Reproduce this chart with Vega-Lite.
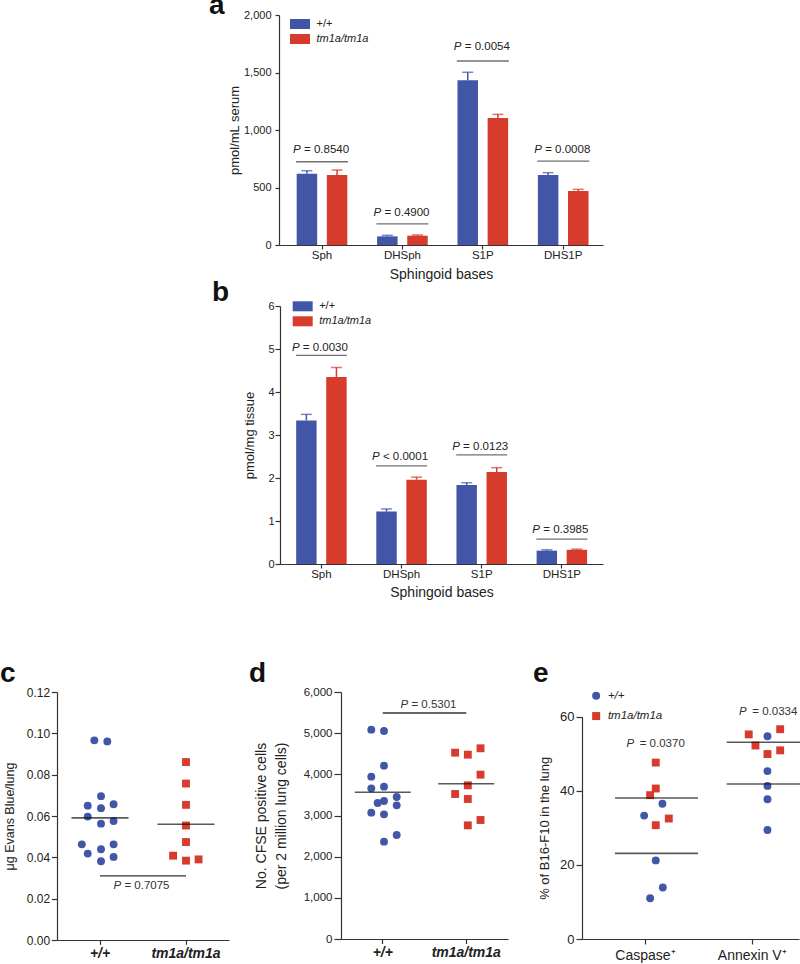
{
  "$schema": "https://vega.github.io/schema/vega-lite/v6.json",
  "padding": {"left": 0, "top": -8, "right": 0, "bottom": 0},
  "background": "white",
  "config": {
    "font": "Liberation Sans",
    "view": {"stroke": null},
    "axis": {"grid": false, "domainColor": "#333", "tickColor": "#333", "domainWidth": 1.2, "tickWidth": 1.2, "labelColor": "#222", "titleColor": "#222", "titleFontWeight": "normal", "labelFontSize": 11, "titleFontSize": 13},
    "title": {"anchor": "start", "frame": "group", "fontSize": 28, "fontWeight": "bold", "baseline": "alphabetic", "color": "#111"},
    "legend": {"labelColor": "#222"}
  },
  "datasets": {
    "a_bars": [
      {"cat": "Sph", "g": "+/+", "v": 620, "err": 646},
      {"cat": "Sph", "g": "tm1a/tm1a", "v": 609, "err": 652},
      {"cat": "DHSph", "g": "+/+", "v": 75, "err": 84},
      {"cat": "DHSph", "g": "tm1a/tm1a", "v": 81, "err": 87},
      {"cat": "S1P", "g": "+/+", "v": 1432, "err": 1502},
      {"cat": "S1P", "g": "tm1a/tm1a", "v": 1104, "err": 1136},
      {"cat": "DHS1P", "g": "+/+", "v": 609, "err": 629},
      {"cat": "DHS1P", "g": "tm1a/tm1a", "v": 470, "err": 484}
    ],
    "a_p": [
      {"cat": "Sph", "t": "= 0.8540", "ly": 724, "ty": 797},
      {"cat": "DHSph", "t": "= 0.4900", "ly": 183, "ty": 252},
      {"cat": "S1P", "t": "= 0.0054", "ly": 1600, "ty": 1696},
      {"cat": "DHS1P", "t": "= 0.0008", "ly": 730, "ty": 797}
    ],
    "b_bars": [
      {"cat": "Sph", "g": "+/+", "v": 3.34, "err": 3.48},
      {"cat": "Sph", "g": "tm1a/tm1a", "v": 4.35, "err": 4.57},
      {"cat": "DHSph", "g": "+/+", "v": 1.22, "err": 1.28},
      {"cat": "DHSph", "g": "tm1a/tm1a", "v": 1.96, "err": 2.02},
      {"cat": "S1P", "g": "+/+", "v": 1.84, "err": 1.89},
      {"cat": "S1P", "g": "tm1a/tm1a", "v": 2.14, "err": 2.24},
      {"cat": "DHS1P", "g": "+/+", "v": 0.31, "err": 0.33},
      {"cat": "DHS1P", "g": "tm1a/tm1a", "v": 0.33, "err": 0.345}
    ],
    "b_p": [
      {"cat": "Sph", "t": "= 0.0030", "ly": 4.85, "ty": 4.95},
      {"cat": "DHSph", "t": "< 0.0001", "ly": 2.28, "ty": 2.41},
      {"cat": "S1P", "t": "= 0.0123", "ly": 2.54, "ty": 2.66},
      {"cat": "DHS1P", "t": "= 0.3985", "ly": 0.58, "ty": 0.72}
    ],
    "c_pts": [
      {"g": "+/+", "v": 0.0966, "j": -0.89},
      {"g": "+/+", "v": 0.0961, "j": 1.15},
      {"g": "+/+", "v": 0.0696, "j": 0.16},
      {"g": "+/+", "v": 0.0650, "j": -1.93},
      {"g": "+/+", "v": 0.0638, "j": 0.16},
      {"g": "+/+", "v": 0.0657, "j": 2.14},
      {"g": "+/+", "v": 0.0597, "j": -1.93},
      {"g": "+/+", "v": 0.0563, "j": 0.16},
      {"g": "+/+", "v": 0.0576, "j": 2.14},
      {"g": "+/+", "v": 0.0463, "j": -2.86},
      {"g": "+/+", "v": 0.0463, "j": 2.14},
      {"g": "+/+", "v": 0.0418, "j": -1.93},
      {"g": "+/+", "v": 0.0439, "j": 0.16},
      {"g": "+/+", "v": 0.0402, "j": 2.14},
      {"g": "+/+", "v": 0.0381, "j": 0.16},
      {"g": "tm1a/tm1a", "v": 0.0861, "j": 0},
      {"g": "tm1a/tm1a", "v": 0.0757, "j": 0},
      {"g": "tm1a/tm1a", "v": 0.0654, "j": 0},
      {"g": "tm1a/tm1a", "v": 0.0554, "j": 0},
      {"g": "tm1a/tm1a", "v": 0.0474, "j": 0},
      {"g": "tm1a/tm1a", "v": 0.0408, "j": -2.03},
      {"g": "tm1a/tm1a", "v": 0.0384, "j": 0},
      {"g": "tm1a/tm1a", "v": 0.0390, "j": 1.98}
    ],
    "c_mean": [
      {"g": "+/+", "m": 0.0591},
      {"g": "tm1a/tm1a", "m": 0.0560}
    ],
    "c_p": [
      {"g1": "+/+", "g2": "tm1a/tm1a", "t": "= 0.7075", "ly": 0.031, "ty": 0.0248}
    ],
    "d_pts": [
      {"g": "+/+", "v": 5085, "j": -2},
      {"g": "+/+", "v": 5053, "j": 0},
      {"g": "+/+", "v": 4211, "j": 0},
      {"g": "+/+", "v": 3943, "j": -2},
      {"g": "+/+", "v": 3660, "j": -2},
      {"g": "+/+", "v": 3700, "j": 0},
      {"g": "+/+", "v": 3449, "j": 2},
      {"g": "+/+", "v": 3304, "j": -1},
      {"g": "+/+", "v": 3352, "j": 0},
      {"g": "+/+", "v": 3247, "j": 2},
      {"g": "+/+", "v": 3069, "j": -2},
      {"g": "+/+", "v": 3028, "j": 0},
      {"g": "+/+", "v": 2526, "j": 2},
      {"g": "+/+", "v": 2364, "j": 0},
      {"g": "tm1a/tm1a", "v": 4526, "j": -1.95},
      {"g": "tm1a/tm1a", "v": 4478, "j": 0.05},
      {"g": "tm1a/tm1a", "v": 4632, "j": 2.05},
      {"g": "tm1a/tm1a", "v": 3992, "j": 2.05},
      {"g": "tm1a/tm1a", "v": 3733, "j": 0.05},
      {"g": "tm1a/tm1a", "v": 3522, "j": -1.95},
      {"g": "tm1a/tm1a", "v": 3401, "j": 0.05},
      {"g": "tm1a/tm1a", "v": 2761, "j": 0.05},
      {"g": "tm1a/tm1a", "v": 2891, "j": 2.05}
    ],
    "d_mean": [
      {"g": "+/+", "m": 3563},
      {"g": "tm1a/tm1a", "m": 3773}
    ],
    "d_p": [
      {"g1": "+/+", "g2": "tm1a/tm1a", "t": "= 0.5301", "ly": 5490, "ty": 5619}
    ],
    "e_pts": [
      {"cond": "Caspase⁺", "g": "+/+", "v": 36.5, "j": 0.94},
      {"cond": "Caspase⁺", "g": "+/+", "v": 33.3, "j": -1.94},
      {"cond": "Caspase⁺", "g": "+/+", "v": 21.2, "j": -0.11},
      {"cond": "Caspase⁺", "g": "+/+", "v": 13.9, "j": 1.0},
      {"cond": "Caspase⁺", "g": "+/+", "v": 11.0, "j": -1.0},
      {"cond": "Caspase⁺", "g": "tm1a/tm1a", "v": 47.6, "j": -0.11},
      {"cond": "Caspase⁺", "g": "tm1a/tm1a", "v": 40.6, "j": -0.11},
      {"cond": "Caspase⁺", "g": "tm1a/tm1a", "v": 38.8, "j": -1.0},
      {"cond": "Caspase⁺", "g": "tm1a/tm1a", "v": 32.5, "j": 1.94},
      {"cond": "Caspase⁺", "g": "tm1a/tm1a", "v": 30.7, "j": -0.11},
      {"cond": "Annexin V⁺", "g": "+/+", "v": 54.7, "j": 0.67},
      {"cond": "Annexin V⁺", "g": "+/+", "v": 45.3, "j": 0.67},
      {"cond": "Annexin V⁺", "g": "+/+", "v": 41.3, "j": 0.67},
      {"cond": "Annexin V⁺", "g": "+/+", "v": 37.7, "j": 0.67},
      {"cond": "Annexin V⁺", "g": "+/+", "v": 29.4, "j": 0.67},
      {"cond": "Annexin V⁺", "g": "tm1a/tm1a", "v": 55.2, "j": -2.28},
      {"cond": "Annexin V⁺", "g": "tm1a/tm1a", "v": 52.2, "j": -1.22},
      {"cond": "Annexin V⁺", "g": "tm1a/tm1a", "v": 56.6, "j": 2.67},
      {"cond": "Annexin V⁺", "g": "tm1a/tm1a", "v": 49.9, "j": 0.67},
      {"cond": "Annexin V⁺", "g": "tm1a/tm1a", "v": 50.9, "j": 2.67}
    ],
    "e_mean": [
      {"cond": "Caspase⁺", "g": "+/+", "m": 23.1, "j": 0},
      {"cond": "Caspase⁺", "g": "tm1a/tm1a", "m": 38.05, "j": 0},
      {"cond": "Annexin V⁺", "g": "+/+", "m": 41.8, "j": 0.78},
      {"cond": "Annexin V⁺", "g": "tm1a/tm1a", "m": 53.1, "j": 0.78}
    ],
    "e_p": [
      {"cond": "Caspase⁺", "t": "= 0.0370", "ty": 51.8, "j": -0.17},
      {"cond": "Annexin V⁺", "t": "= 0.0334", "ty": 60.36, "j": 0.75}
    ]
  },
  "spacing": -3,
  "resolve": {"scale": {"color": "independent", "shape": "independent"}, "legend": {"color": "independent", "shape": "independent"}},
  "vconcat": [
    {
      "spacing": 0,
      "resolve": {"scale": {"color": "independent"}, "legend": {"color": "independent"}},
      "hconcat": [
        {"width": 152, "height": 1, "data": {"values": [{}]}, "mark": {"type": "point", "opacity": 0}, "encoding": {}},
        {
          "width": 324, "height": 230,
          "title": {"text": "a", "dx": -70, "offset": -11},
          "layer": [
            {
              "data": {"name": "a_bars"},
              "mark": {"type": "bar"},
              "encoding": {
                "x": {"field": "cat", "type": "nominal", "scale": {"domain": ["Sph", "DHSph", "S1P", "DHS1P"], "paddingInner": 0.37, "paddingOuter": 0.2, "align": 0.55}, "axis": {"title": "Sphingoid bases", "labelAngle": 0, "labelFontSize": 11.5, "tickSize": 4, "labelPadding": 0, "titlePadding": 7, "titleFontSize": 14}},
                "xOffset": {"field": "g", "type": "nominal", "scale": {"domain": ["+/+", "tm1a/tm1a"], "paddingInner": 0.32, "paddingOuter": 0}},
                "y": {"field": "v", "type": "quantitative", "scale": {"domain": [0, 2000], "nice": false}, "axis": {"title": "pmol/mL serum", "values": [0, 500, 1000, 1500, 2000], "format": ",.0f", "tickSize": 4, "labelPadding": 4, "titlePadding": 2.3, "titleFontSize": 13, "labelFontSize": 11}},
                "color": {"field": "g", "type": "nominal", "scale": {"domain": ["+/+", "tm1a/tm1a"], "range": ["#4256a7", "#d63b2b"]},
                  "legend": {"title": null, "orient": "none", "legendX": 11, "legendY": -1, "symbolType": "M-1,-0.5H1V0.5H-1Z", "symbolSize": 400, "symbolStrokeWidth": 0, "symbolOpacity": 1, "labelFontSize": 11, "labelOffset": 6.5, "rowPadding": -3, "padding": 0,
                    "encode": {"labels": {"update": {"fontStyle": {"signal": "datum.value === 'tm1a/tm1a' ? 'italic' : 'normal'"}}}}}}
              }
            },
            {
              "data": {"name": "a_bars"},
              "mark": {"type": "rule", "strokeWidth": 1.5},
              "encoding": {
                "x": {"field": "cat", "type": "nominal"},
                "xOffset": {"field": "g", "type": "nominal"},
                "y": {"field": "v", "type": "quantitative"},
                "y2": {"field": "err"},
                "color": {"field": "g", "type": "nominal", "legend": null}
              }
            },
            {
              "data": {"name": "a_bars"},
              "mark": {"type": "tick", "size": 11, "thickness": 1.5},
              "encoding": {
                "x": {"field": "cat", "type": "nominal"},
                "xOffset": {"field": "g", "type": "nominal"},
                "y": {"field": "err", "type": "quantitative"},
                "color": {"field": "g", "type": "nominal", "legend": null}
              }
            },
            {
              "data": {"name": "a_p"},
              "mark": {"type": "tick", "size": 52, "thickness": 1.3, "color": "#333"},
              "encoding": {
                "x": {"field": "cat", "type": "nominal"},
                "y": {"field": "ly", "type": "quantitative"}
              }
            },
            {
              "data": {"name": "a_p"},
              "mark": {"type": "text", "text": "P", "fontStyle": "italic", "align": "left", "baseline": "alphabetic", "dx": -29, "fontSize": 11.5, "color": "#222"},
              "encoding": {
                "x": {"field": "cat", "type": "nominal"},
                "y": {"field": "ty", "type": "quantitative"}
              }
            },
            {
              "data": {"name": "a_p"},
              "mark": {"type": "text", "align": "left", "baseline": "alphabetic", "dx": -18, "fontSize": 11.5, "color": "#222"},
              "encoding": {
                "x": {"field": "cat", "type": "nominal"},
                "y": {"field": "ty", "type": "quantitative"},
                "text": {"field": "t"}
              }
            }
          ]
        }
      ]
    },
    {
      "spacing": 0,
      "resolve": {"scale": {"color": "independent"}, "legend": {"color": "independent"}},
      "hconcat": [
        {"width": 155, "height": 356, "data": {"values": [{}]}, "mark": {"type": "point", "opacity": 0}, "encoding": {}},
        {
          "width": 323, "height": 258,
          "title": {"text": "b", "dx": -68, "offset": -11},
          "layer": [
            {
              "data": {"name": "b_bars"},
              "mark": {"type": "bar"},
              "encoding": {
                "x": {"field": "cat", "type": "nominal", "scale": {"domain": ["Sph", "DHSph", "S1P", "DHS1P"], "paddingInner": 0.37, "paddingOuter": 0.2, "align": 0.504}, "axis": {"title": "Sphingoid bases", "labelAngle": 0, "labelFontSize": 11.5, "tickSize": 4, "labelPadding": 0, "titlePadding": 6, "titleFontSize": 14}},
                "xOffset": {"field": "g", "type": "nominal", "scale": {"domain": ["+/+", "tm1a/tm1a"], "paddingInner": 0.32, "paddingOuter": 0}},
                "y": {"field": "v", "type": "quantitative", "scale": {"domain": [0, 6], "nice": false}, "axis": {"title": "pmol/mg tissue", "values": [0, 1, 2, 3, 4, 5, 6], "tickSize": 5, "labelPadding": 1, "titlePadding": 11.4, "titleFontSize": 13, "labelFontSize": 11}},
                "color": {"field": "g", "type": "nominal", "scale": {"domain": ["+/+", "tm1a/tm1a"], "range": ["#4256a7", "#d63b2b"]},
                  "legend": {"title": null, "orient": "none", "legendX": 12.7, "legendY": -9.7, "symbolType": "M-1,-0.5H1V0.5H-1Z", "symbolSize": 400, "symbolStrokeWidth": 0, "symbolOpacity": 1, "labelFontSize": 11, "labelOffset": 6.5, "rowPadding": -3.5, "padding": 0,
                    "encode": {"labels": {"update": {"fontStyle": {"signal": "datum.value === 'tm1a/tm1a' ? 'italic' : 'normal'"}}}}}}
              }
            },
            {
              "data": {"name": "b_bars"},
              "mark": {"type": "rule", "strokeWidth": 1.5},
              "encoding": {
                "x": {"field": "cat", "type": "nominal"},
                "xOffset": {"field": "g", "type": "nominal"},
                "y": {"field": "v", "type": "quantitative"},
                "y2": {"field": "err"},
                "color": {"field": "g", "type": "nominal", "legend": null}
              }
            },
            {
              "data": {"name": "b_bars"},
              "mark": {"type": "tick", "size": 11, "thickness": 1.5},
              "encoding": {
                "x": {"field": "cat", "type": "nominal"},
                "xOffset": {"field": "g", "type": "nominal"},
                "y": {"field": "err", "type": "quantitative"},
                "color": {"field": "g", "type": "nominal", "legend": null}
              }
            },
            {
              "data": {"name": "b_p"},
              "mark": {"type": "tick", "size": 51, "thickness": 1.3, "color": "#333"},
              "encoding": {
                "x": {"field": "cat", "type": "nominal"},
                "y": {"field": "ly", "type": "quantitative"}
              }
            },
            {
              "data": {"name": "b_p"},
              "mark": {"type": "text", "text": "P", "fontStyle": "italic", "align": "left", "baseline": "alphabetic", "dx": -29.5, "fontSize": 11.5, "color": "#222"},
              "encoding": {
                "x": {"field": "cat", "type": "nominal"},
                "y": {"field": "ty", "type": "quantitative"}
              }
            },
            {
              "data": {"name": "b_p"},
              "mark": {"type": "text", "align": "left", "baseline": "alphabetic", "dx": -18.6, "fontSize": 11.5, "color": "#222"},
              "encoding": {
                "x": {"field": "cat", "type": "nominal"},
                "y": {"field": "ty", "type": "quantitative"},
                "text": {"field": "t"}
              }
            }
          ]
        }
      ]
    },
    {
      "spacing": 20,
      "resolve": {"scale": {"color": "independent", "shape": "independent"}, "legend": {"color": "independent", "shape": "independent"}},
      "hconcat": [
        {
          "width": 172, "height": 248,
          "title": {"text": "c", "dx": -57, "offset": -1.5},
          "layer": [
            {
              "data": {"name": "c_pts"},
              "mark": {"type": "point", "filled": true, "opacity": 1, "size": 62, "strokeWidth": 0},
              "encoding": {
                "x": {"field": "g", "type": "nominal", "scale": {"domain": ["+/+", "tm1a/tm1a"], "paddingInner": 0, "paddingOuter": 0}, "axis": {"title": null, "labelAngle": 0, "labelFontSize": 14, "labelFontStyle": "italic", "labelFontWeight": "bold", "tickSize": 4.3, "labelPadding": 2.3}},
                "xOffset": {"field": "j", "type": "quantitative", "scale": {"domain": [-6.72, 6.72]}},
                "y": {"field": "v", "type": "quantitative", "scale": {"domain": [0, 0.12], "nice": false}, "axis": {"title": "μg Evans Blue/lung", "values": [0, 0.02, 0.04, 0.06, 0.08, 0.1, 0.12], "format": ".2f", "tickSize": 5.6, "labelPadding": 1.7, "titlePadding": 10.3, "titleFontSize": 12.5, "labelFontSize": 12}},
                "color": {"field": "g", "type": "nominal", "scale": {"domain": ["+/+", "tm1a/tm1a"], "range": ["#4256a7", "#d63b2b"]}, "legend": null},
                "shape": {"field": "g", "type": "nominal", "scale": {"domain": ["+/+", "tm1a/tm1a"], "range": ["circle", "square"]}, "legend": null}
              }
            },
            {
              "data": {"name": "c_mean"},
              "mark": {"type": "tick", "size": 57, "thickness": 1.6, "color": "#111"},
              "encoding": {
                "x": {"field": "g", "type": "nominal"},
                "y": {"field": "m", "type": "quantitative"}
              }
            },
            {
              "data": {"name": "c_p"},
              "mark": {"type": "rule", "strokeWidth": 1.3, "color": "#333"},
              "encoding": {
                "x": {"field": "g1", "type": "nominal"},
                "x2": {"field": "g2"},
                "y": {"field": "ly", "type": "quantitative"}
              }
            },
            {
              "data": {"name": "c_p"},
              "mark": {"type": "text", "text": "P", "fontStyle": "italic", "align": "left", "baseline": "alphabetic", "dx": -29.5, "fontSize": 11.5, "color": "#333"},
              "encoding": {
                "x": {"field": "g1", "type": "nominal", "bandPosition": 1},
                "y": {"field": "ty", "type": "quantitative"}
              }
            },
            {
              "data": {"name": "c_p"},
              "mark": {"type": "text", "align": "left", "baseline": "alphabetic", "dx": -18.6, "fontSize": 11.5, "color": "#333"},
              "encoding": {
                "x": {"field": "g1", "type": "nominal", "bandPosition": 1},
                "y": {"field": "ty", "type": "quantitative"},
                "text": {"field": "t"}
              }
            }
          ]
        },
        {
          "width": 172, "height": 247,
          "title": {"text": "d", "dx": -92, "offset": -1.5},
          "layer": [
            {
              "data": {"name": "d_pts"},
              "mark": {"type": "point", "filled": true, "opacity": 1, "size": 62, "strokeWidth": 0},
              "encoding": {
                "x": {"field": "g", "type": "nominal", "scale": {"domain": ["+/+", "tm1a/tm1a"], "paddingInner": 0, "paddingOuter": 0, "range": [0, 167]}, "axis": {"title": null, "labelAngle": 0, "labelFontSize": 14, "labelFontStyle": "italic", "labelFontWeight": "bold", "tickSize": 4.5, "labelPadding": 2.3}},
                "xOffset": {"field": "j", "type": "quantitative", "scale": {"domain": [-6.77, 6.77]}},
                "y": {"field": "v", "type": "quantitative", "scale": {"domain": [0, 6000], "nice": false}, "axis": {"title": ["No. CFSE positive cells", "(per 2 million lung cells)"], "titleLineHeight": 19.7, "values": [0, 1000, 2000, 3000, 4000, 5000, 6000], "format": ",.0f", "tickSize": 7, "labelPadding": 2, "titlePadding": 14.6, "titleFontSize": 14, "labelFontSize": 11.5}},
                "color": {"field": "g", "type": "nominal", "scale": {"domain": ["+/+", "tm1a/tm1a"], "range": ["#4256a7", "#d63b2b"]}, "legend": null},
                "shape": {"field": "g", "type": "nominal", "scale": {"domain": ["+/+", "tm1a/tm1a"], "range": ["circle", "square"]}, "legend": null}
              }
            },
            {
              "data": {"name": "d_mean"},
              "mark": {"type": "tick", "size": 56, "thickness": 1.6, "color": "#111"},
              "encoding": {
                "x": {"field": "g", "type": "nominal"},
                "y": {"field": "m", "type": "quantitative"}
              }
            },
            {
              "data": {"name": "d_p"},
              "mark": {"type": "rule", "strokeWidth": 1.3, "color": "#333"},
              "encoding": {
                "x": {"field": "g1", "type": "nominal"},
                "x2": {"field": "g2"},
                "y": {"field": "ly", "type": "quantitative"}
              }
            },
            {
              "data": {"name": "d_p"},
              "mark": {"type": "text", "text": "P", "fontStyle": "italic", "align": "left", "baseline": "alphabetic", "dx": -24, "fontSize": 11.5, "color": "#333"},
              "encoding": {
                "x": {"field": "g1", "type": "nominal", "bandPosition": 1},
                "y": {"field": "ty", "type": "quantitative"}
              }
            },
            {
              "data": {"name": "d_p"},
              "mark": {"type": "text", "align": "left", "baseline": "alphabetic", "dx": -13.1, "fontSize": 11.5, "color": "#333"},
              "encoding": {
                "x": {"field": "g1", "type": "nominal", "bandPosition": 1},
                "y": {"field": "ty", "type": "quantitative"},
                "text": {"field": "t"}
              }
            }
          ]
        },
        {
          "width": 217, "height": 247,
          "title": {"text": "e", "dx": -49, "offset": 2},
          "layer": [
            {
              "data": {"name": "e_pts"},
              "mark": {"type": "point", "filled": true, "opacity": 1, "size": 62, "strokeWidth": 0},
              "encoding": {
                "x": {"field": "cond", "type": "nominal", "scale": {"domain": ["Caspase⁺", "Annexin V⁺"], "paddingInner": 0.4, "paddingOuter": 0.2165, "align": 0.681}, "axis": {"title": null, "labelAngle": 0, "labelFontSize": 14, "tickSize": 5, "labelPadding": 4.7}},
                "xOffset": {"field": "j", "type": "quantitative", "scale": {"domain": [-5.34, 5.34]}},
                "y": {"field": "v", "type": "quantitative", "scale": {"domain": [0, 60], "nice": false, "range": [247, 24.6]}, "axis": {"title": "% of B16-F10 in the lung", "values": [0, 20, 40, 60], "tickSize": 6, "labelPadding": 2, "titlePadding": 8.5, "titleFontSize": 13, "labelFontSize": 13}},
                "color": {"field": "g", "type": "nominal", "scale": {"domain": ["+/+", "tm1a/tm1a"], "range": ["#4256a7", "#d63b2b"]},
                  "legend": {"title": null, "orient": "none", "legendX": 8.4, "legendY": -2, "symbolSize": 64, "symbolStrokeWidth": 0, "symbolOpacity": 1, "labelFontSize": 11.5, "labelFontStyle": "italic", "labelOffset": 6, "rowPadding": 7.3, "padding": 0}},
                "shape": {"field": "g", "type": "nominal", "scale": {"domain": ["+/+", "tm1a/tm1a"], "range": ["circle", "square"]},
                  "legend": {"title": null, "orient": "none", "legendX": 8.4, "legendY": -2, "symbolSize": 64, "symbolStrokeWidth": 0, "symbolOpacity": 1, "labelFontSize": 11.5, "labelFontStyle": "italic", "labelOffset": 6, "rowPadding": 7.3, "padding": 0}}
              }
            },
            {
              "data": {"name": "e_mean"},
              "mark": {"type": "tick", "size": 83, "thickness": 1.6, "color": "#111"},
              "encoding": {
                "x": {"field": "cond", "type": "nominal"},
                "xOffset": {"field": "j", "type": "quantitative"},
                "y": {"field": "m", "type": "quantitative"}
              }
            },
            {
              "data": {"name": "e_p"},
              "mark": {"type": "text", "text": "P", "fontStyle": "italic", "align": "left", "baseline": "alphabetic", "dx": -29, "fontSize": 11.5, "color": "#333"},
              "encoding": {
                "x": {"field": "cond", "type": "nominal"},
                "xOffset": {"field": "j", "type": "quantitative"},
                "y": {"field": "ty", "type": "quantitative"}
              }
            },
            {
              "data": {"name": "e_p"},
              "mark": {"type": "text", "align": "left", "baseline": "alphabetic", "dx": -15.7, "fontSize": 11.5, "color": "#333"},
              "encoding": {
                "x": {"field": "cond", "type": "nominal"},
                "xOffset": {"field": "j", "type": "quantitative"},
                "y": {"field": "ty", "type": "quantitative"},
                "text": {"field": "t"}
              }
            }
          ]
        }
      ]
    }
  ]
}
